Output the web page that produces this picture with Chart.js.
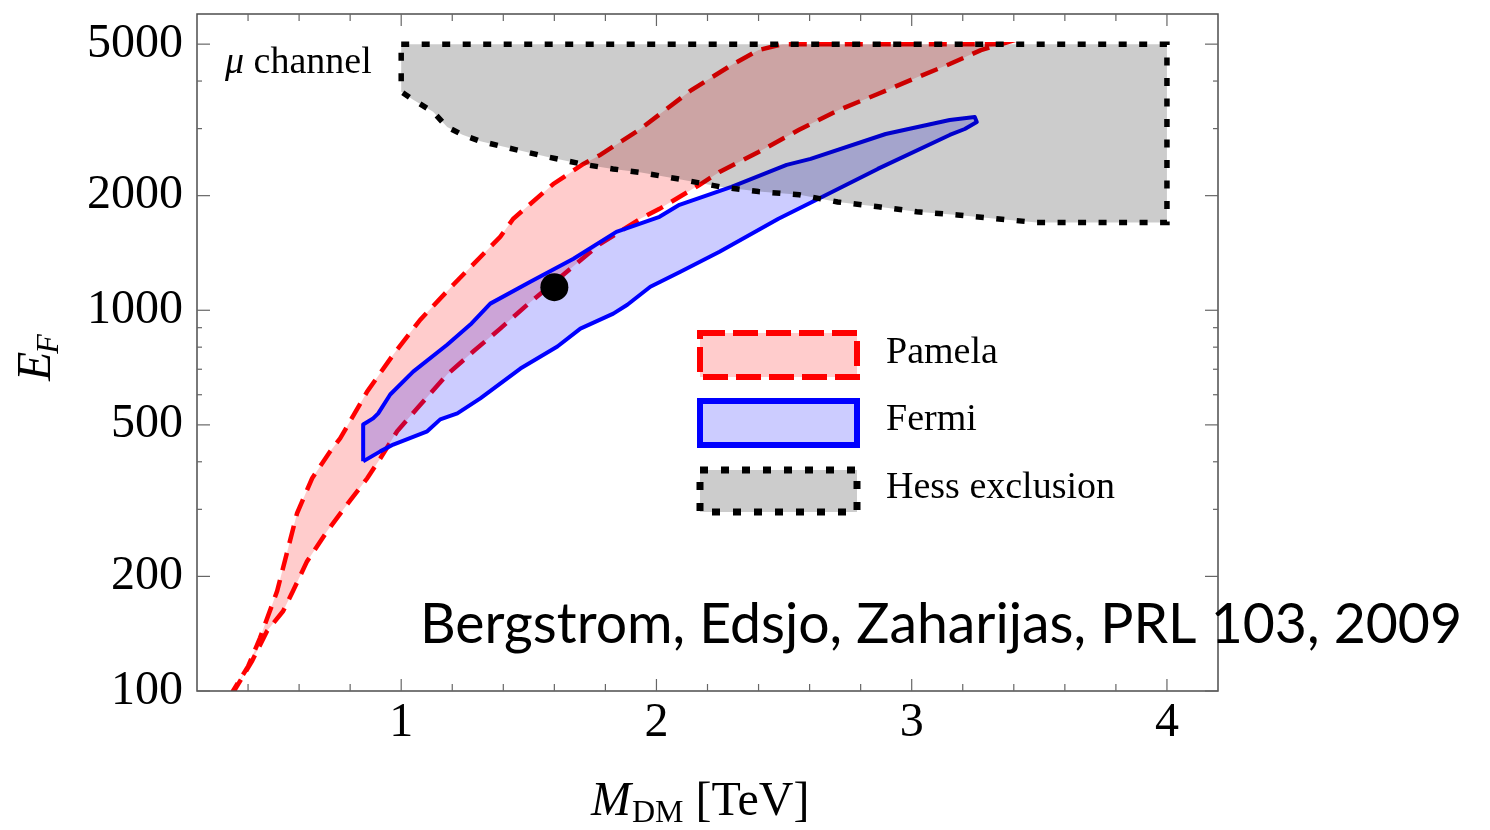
<!DOCTYPE html>
<html>
<head>
<meta charset="utf-8">
<script src="https://cdn.jsdelivr.net/npm/chart.js@4.4.1/dist/chart.umd.min.js"></script>
<style>
  html, body { margin: 0; padding: 0; background: #fff; }
  #wrap { width: 1490px; height: 830px; }
</style>
</head>
<body>
<div id="wrap"><canvas id="c" width="1490" height="830"></canvas></div>
<script>
// Pamela-favoured region: dark-matter mass (TeV) and E_F along the closed boundary
const pamelaMass = [0.33, 0.341, 0.400, 0.447, 0.514, 0.592, 0.651, 0.722, 0.761, 0.867, 0.969, 1.075, 1.204,
  1.388, 1.439, 1.596, 1.714, 1.780, 1.937, 2.137, 2.294, 2.400, 2.494, 3.349, 3.271, 3.149, 3.024, 2.867,
  2.714, 2.557, 2.400, 2.247, 2.169, 2.012, 1.937, 1.843, 1.780, 1.635, 1.494, 1.388, 1.282, 1.180, 1.075,
  0.984, 0.918, 0.867, 0.788, 0.710, 0.631, 0.576, 0.537, 0.475, 0.416, 0.349, 0.337];
const pamelaEF = [95, 100, 116, 138, 183, 293, 362, 426, 461, 612, 765, 945, 1167,
  1560, 1739, 2147, 2423, 2559, 2993, 3788, 4405, 4823, 5000, 5000, 4823, 4433, 4097, 3698,
  3357, 2975, 2605, 2309, 2135, 1847, 1739, 1588, 1495, 1240, 1034, 895, 779, 678, 565,
  481, 408, 362, 309, 263, 219, 183, 162, 144, 120, 101, 95];

// Fermi-favoured region
const fermiMass = [0.851, 0.851, 0.890, 0.910, 0.957, 1.047, 1.180, 1.271, 1.349, 1.506, 1.675, 1.843, 2.012,
  2.090, 2.294, 2.510, 2.604, 2.898, 3.149, 3.247, 3.255, 3.208, 3.149, 2.867, 2.635, 2.478, 2.247, 2.094,
  1.976, 1.886, 1.831, 1.702, 1.612, 1.467, 1.310, 1.220, 1.153, 1.102, 0.969, 0.918, 0.851];
const fermiEF = [401, 501, 520, 536, 601, 690, 812, 917, 1041, 1189, 1366, 1607, 1760,
  1892, 2110, 2409, 2498, 2904, 3160, 3218, 3122, 2993, 2887, 2351, 1962, 1739, 1424, 1262,
  1153, 1034, 980, 895, 803, 703, 587, 536, 517, 481, 444, 426, 401];

// H.E.S.S. excluded region
const hessMass = [1.0, 4.0, 4.0, 3.49, 3.33, 3.18, 3.02, 2.87, 2.71, 2.56, 2.40, 2.25, 2.09, 1.94, 1.83,
  1.71, 1.57, 1.44, 1.31, 1.24, 1.18, 1.125, 1.047, 1.0, 1.0];
const hessEF = [5000, 5000, 1700, 1700, 1740, 1780, 1815, 1870, 1925, 2010, 2050, 2110, 2210, 2300, 2350,
  2420, 2530, 2650, 2780, 2890, 3030, 3320, 3570, 3750, 5000];

// Best-fit point
const bestFitMass = [1.6];
const bestFitEF = [1150];

// Axis ticks
const massTicks = [1, 2, 3, 4];
const massMinorTicks = [0.4, 0.6, 0.8, 1.2, 1.4, 1.6, 1.8, 2.2, 2.4, 2.6, 2.8, 3.2, 3.4, 3.6, 3.8];
const efTicks = [100, 200, 500, 1000, 2000, 5000];
const efMinorTicks = [300, 400, 600, 700, 800, 900, 3000, 4000];

const legendLabels = ['Pamela', 'Fermi', 'Hess exclusion'];
const channelLabel = ' channel';
const citation = 'Bergstrom, Edsjo, Zaharijas, PRL 103, 2009';

const pts = (xs, ys) => xs.map((x, i) => ({ x: x, y: ys[i] }));
const SERIF = '"Liberation Serif", "Times New Roman", serif';

const pamelaSet = {
  label: legendLabels[0], data: pts(pamelaMass, pamelaEF),
  borderColor: '#ff0000', borderWidth: 4.5, borderDash: [18, 10],
  backgroundColor: 'rgba(255,0,0,0.2)', fill: 'shape', clip: 0,
  pointRadius: 0, pointHoverRadius: 0, tension: 0
};
const fermiSet = {
  label: legendLabels[1], data: pts(fermiMass, fermiEF),
  borderColor: '#0000ff', borderWidth: 4, borderJoinStyle: 'round',
  backgroundColor: 'rgba(0,0,255,0.2)', fill: 'shape', clip: 0,
  pointRadius: 0, pointHoverRadius: 0, tension: 0
};
const hessSet = {
  label: legendLabels[2], data: pts(hessMass, hessEF),
  borderColor: '#000000', borderWidth: 5.5, borderDash: [8, 12.5],
  backgroundColor: 'rgba(0,0,0,0.2)', fill: 'shape', clip: 0,
  pointRadius: 0, pointHoverRadius: 0, tension: 0
};
const bestFitSet = {
  label: 'best fit', data: pts(bestFitMass, bestFitEF), showLine: false,
  pointRadius: 14, pointHoverRadius: 14, pointBackgroundColor: '#000', pointBorderWidth: 0
};

// Frame, inward ticks, titles, legend and notes
const decorations = {
  id: 'decorations',
  afterDatasetsDraw(chart) {
    const { ctx, chartArea: a, scales: { x, y } } = chart;
    ctx.save();
    ctx.setLineDash([]);
    ctx.strokeStyle = '#4d4d4d';
    ctx.lineWidth = 1.5;
    ctx.strokeRect(a.left, a.top, a.right - a.left, a.bottom - a.top);
    ctx.strokeStyle = '#666';
    ctx.lineWidth = 1.2;
    const seg = (x1, y1, x2, y2) => { ctx.beginPath(); ctx.moveTo(x1, y1); ctx.lineTo(x2, y2); ctx.stroke(); };
    const xt = (v, len) => { const p = x.getPixelForValue(v); seg(p, a.bottom, p, a.bottom - len); seg(p, a.top, p, a.top + len); };
    const yt = (v, len) => { const p = y.getPixelForValue(v); seg(a.left, p, a.left + len, p); seg(a.right, p, a.right - len, p); };
    massTicks.forEach(v => xt(v, 12));
    massMinorTicks.forEach(v => xt(v, 7));
    efTicks.forEach(v => yt(v, 13));
    efMinorTicks.forEach(v => yt(v, 5));
    ctx.restore();
  },
  afterDraw(chart) {
    const { ctx } = chart;
    ctx.save();
    ctx.fillStyle = '#000';
    ctx.textBaseline = 'alphabetic';
    ctx.textAlign = 'left';

    // y title: E_F
    ctx.save();
    ctx.translate(50, 381);
    ctx.rotate(-Math.PI / 2);
    ctx.font = 'italic 48px ' + SERIF;
    ctx.fillText('E', 0, 0);
    const wE = ctx.measureText('E').width;
    ctx.font = 'italic 32px ' + SERIF;
    ctx.fillText('F', wE - 2, 8);
    ctx.restore();

    // x title: M_DM [TeV]
    let cx = 591;
    ctx.font = 'italic 48px ' + SERIF;
    ctx.fillText('M', cx, 815);
    cx += ctx.measureText('M').width + 1;
    ctx.font = '32px ' + SERIF;
    ctx.fillText('DM', cx, 822);
    cx += ctx.measureText('DM').width;
    ctx.font = '48px ' + SERIF;
    ctx.fillText(' [TeV]', cx, 815);

    // channel label
    ctx.font = 'italic 38px ' + SERIF;
    ctx.fillText('\u03bc', 225, 73);
    const wMu = ctx.measureText('\u03bc').width;
    ctx.font = '38px ' + SERIF;
    ctx.fillText(channelLabel, 225 + wMu, 73);

    // legend
    const entries = [
      { set: pamelaSet, top: 333, h: 44, lw: 6, dash: [25, 8] },
      { set: fermiSet, top: 401, h: 44, lw: 6, dash: [] },
      { set: hessSet, top: 470, h: 42, lw: 7, dash: [8, 13] }
    ];
    const baselines = [363, 430, 498];
    entries.forEach((e, i) => {
      ctx.save();
      ctx.fillStyle = e.set.backgroundColor;
      ctx.fillRect(700, e.top, 157, e.h);
      ctx.strokeStyle = e.set.borderColor;
      ctx.lineWidth = e.lw;
      ctx.setLineDash(e.dash);
      ctx.strokeRect(700, e.top, 157, e.h);
      ctx.restore();
      ctx.font = '38px ' + SERIF;
      ctx.fillText(e.set.label, 886, baselines[i]);
    });

    // reference note
    ctx.font = '56px Lato, "Open Sans", sans-serif';
    const w = ctx.measureText(citation).width;
    ctx.translate(420, 643);
    ctx.scale(1042 / w, 1);
    ctx.fillText(citation, 0, 0);
    ctx.restore();
  }
};

new Chart(document.getElementById('c'), {
  type: 'line',
  data: { datasets: [bestFitSet, hessSet, fermiSet, pamelaSet] },
  options: {
    responsive: false,
    animation: false,
    events: [],
    layout: { padding: { left: 0, right: 272, top: 12, bottom: 0 } },
    plugins: { legend: { display: false }, tooltip: { enabled: false } },
    scales: {
      x: {
        type: 'linear', min: 0.2, max: 4.2,
        afterBuildTicks: s => { s.ticks = massTicks.map(v => ({ value: v })); },
        afterFit: s => { s.height = 139; s.paddingLeft = 0; s.paddingRight = 0; },
        grid: { display: false, drawTicks: false },
        border: { display: false },
        ticks: {
          padding: 4, maxRotation: 0, autoSkip: false, color: '#000',
          font: { size: 48, family: SERIF },
          callback: v => String(v)
        }
      },
      y: {
        type: 'logarithmic', min: 100, max: 6000,
        afterBuildTicks: s => { s.ticks = efTicks.map(v => ({ value: v })); },
        afterFit: s => { s.width = 197; s.paddingTop = 0; s.paddingBottom = 0; },
        grid: { display: false, drawTicks: false },
        border: { display: false },
        ticks: {
          padding: 14, autoSkip: false, color: '#000',
          font: { size: 48, family: SERIF },
          callback: v => String(v)
        }
      }
    }
  },
  plugins: [decorations]
});
</script>
</body>
</html>
